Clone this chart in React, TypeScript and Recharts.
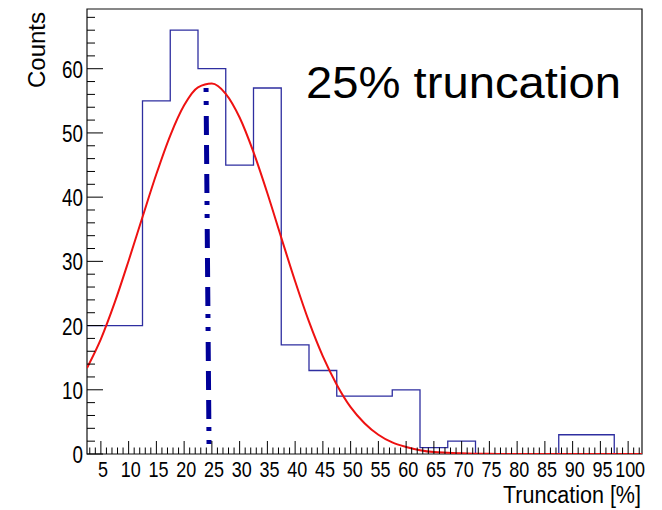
import React from 'react';
import { ComposedChart, Line, XAxis, YAxis, ReferenceArea } from 'recharts';

// Histogram: bin centres (Truncation %) and counts
const binCenters = [5, 10, 15, 20, 25, 30, 35, 40, 45, 50, 55, 60, 65, 70, 75, 80, 85, 90, 95, 100];
const binCounts = [20, 20, 55, 66, 60, 45, 57, 17, 13, 9, 9, 10, 1, 2, 0, 0, 0, 3, 3, 0];
const binWidth = 5;

// Gaussian fit curve
const fitX = [2.5, 5, 7.5, 10, 12.5, 15, 17.5, 20, 22.5, 25, 27.5, 30, 32.5, 35, 37.5, 40, 42.5, 45, 47.5, 50, 52.5, 55, 57.5, 60, 62.5, 65, 67.5, 70, 72.5, 75, 77.5, 80, 85, 90, 95, 100, 102.5];
const fitY = [13.4, 17.9, 23.6, 30.1, 36.9, 43.6, 49.6, 54.3, 57.1, 57.7, 56.1, 52.4, 47.0, 40.6, 33.7, 26.9, 20.6, 15.2, 10.8, 7.3, 4.8, 3.0, 1.8, 1.1, 0.6, 0.3, 0.2, 0.1, 0.05, 0.02, 0.01, 0, 0, 0, 0, 0, 0];

// Mean (dash-dot) marker line
const meanLineX = [23.95, 24.5];
const meanLineY = [57.0, 0];

// Axis ticks
const xMajorTicks = [5, 10, 15, 20, 25, 30, 35, 40, 45, 50, 55, 60, 65, 70, 75, 80, 85, 90, 95, 100];
const xMinorTicks = Array.from({ length: 100 }, (_, i) => i + 3);
const yMajorTicks = [0, 10, 20, 30, 40, 50, 60];
const yMinorTicks = Array.from({ length: 35 }, (_, i) => i * 2);

const xDomain = [2.5, 102.5];
const yDomain = [0, 69.3];

const xTitle = 'Truncation [%]';
const yTitle = 'Counts';
const annotation = '25% truncation';

const FONT = '"Liberation Sans", Arial, Helvetica, sans-serif';

const histData = [
  ...binCenters.map((c, i) => ({ x: c - binWidth / 2, y: binCounts[i] })),
  { x: binCenters[binCenters.length - 1] + binWidth / 2, y: binCounts[binCounts.length - 1] },
];
const fitData = fitX.map((x, i) => ({ x, y: fitY[i] }));
const meanData = meanLineX.map((x, i) => ({ x, y: meanLineY[i] }));

const xTicks = Array.from(new Set([...xMinorTicks, ...xMajorTicks])).sort((a, b) => a - b);
const yTicks = Array.from(new Set([...yMinorTicks, ...yMajorTicks])).sort((a, b) => a - b);

const XTick = (props: any) => {
  const { x, y, payload } = props;
  const v = payload.value;
  const major = xMajorTicks.includes(v);
  const label = String(v);
  return (
    <g>
      <line x1={x} x2={x} y1={y} y2={y - (major ? 13 : 6.5)} stroke="#000" strokeWidth={1} />
      {major && (
        <text
          transform={`translate(${x + 2}, ${y + 23}) scale(1, 1.2)`}
          x={0}
          y={0}
          textAnchor="middle"
          fontSize={19}
          fontFamily={FONT}
          fill="#000"
          textLength={label.length * 10.0}
          lengthAdjust="spacingAndGlyphs"
        >
          {label}
        </text>
      )}
    </g>
  );
};

const YTick = (props: any) => {
  const { x, y, payload } = props;
  const v = payload.value;
  const major = yMajorTicks.includes(v);
  const label = String(v);
  return (
    <g>
      <line x1={x} x2={x + (major ? 16 : 8)} y1={y} y2={y} stroke="#000" strokeWidth={1} />
      {major && (
        <text
          x={x - 4}
          y={y + 9}
          textAnchor="end"
          fontSize={24}
          fontFamily={FONT}
          fill="#000"
          textLength={label.length * 10.5}
          lengthAdjust="spacingAndGlyphs"
        >
          {label}
        </text>
      )}
    </g>
  );
};

export default function App() {
  return (
    <div style={{ position: 'absolute', left: 0, top: 0, width: 662, height: 510, background: '#fff' }}>
      <ComposedChart width={662} height={510} margin={{ top: 9, right: 20, bottom: 0, left: 0 }}>
        <XAxis
          dataKey="x"
          type="number"
          domain={xDomain}
          ticks={xTicks}
          interval={0}
          tickSize={0}
          tickMargin={0}
          axisLine={false}
          tickLine={false}
          height={56}
          allowDataOverflow
          tick={(p: any) => <XTick {...p} />}
        />
        <YAxis
          type="number"
          domain={yDomain}
          ticks={yTicks}
          interval={0}
          tickSize={0}
          tickMargin={0}
          axisLine={false}
          tickLine={false}
          width={87}
          allowDataOverflow
          tick={(p: any) => <YTick {...p} />}
        />
        <ReferenceArea
          x1={xDomain[0]}
          x2={xDomain[1]}
          y1={yDomain[0]}
          y2={yDomain[1]}
          fill="none"
          fillOpacity={0}
          stroke="#111"
          strokeWidth={1.2}
        />
        <Line
          data={histData}
          dataKey="y"
          type="stepAfter"
          stroke="#2e2ea0"
          strokeWidth={1.3}
          dot={false}
          isAnimationActive={false}
        />
        <Line
          data={fitData}
          dataKey="y"
          type="monotone"
          stroke="#ee1111"
          strokeWidth={2}
          dot={false}
          isAnimationActive={false}
        />
        <Line
          data={meanData}
          dataKey="y"
          type="linear"
          stroke="#000099"
          strokeWidth={5}
          strokeDasharray="4 9 4 11 19 10 19 10 19 8"
          dot={false}
          isAnimationActive={false}
        />
      </ComposedChart>
      <svg
        width={662}
        height={510}
        style={{ position: 'absolute', left: 0, top: 0, pointerEvents: 'none' }}
      >
        <text
          x={306}
          y={98}
          fontSize={45}
          fontFamily={FONT}
          fill="#000"
          textLength={315}
          lengthAdjust="spacingAndGlyphs"
        >
          {annotation}
        </text>
        <text
          x={641}
          y={503}
          textAnchor="end"
          fontSize={23}
          fontFamily={FONT}
          fill="#000"
          textLength={138}
          lengthAdjust="spacingAndGlyphs"
        >
          {xTitle}
        </text>
        <text
          transform="translate(45, 12) rotate(-90)"
          textAnchor="end"
          fontSize={24}
          fontFamily={FONT}
          fill="#000"
        >
          {yTitle}
        </text>
      </svg>
    </div>
  );
}
